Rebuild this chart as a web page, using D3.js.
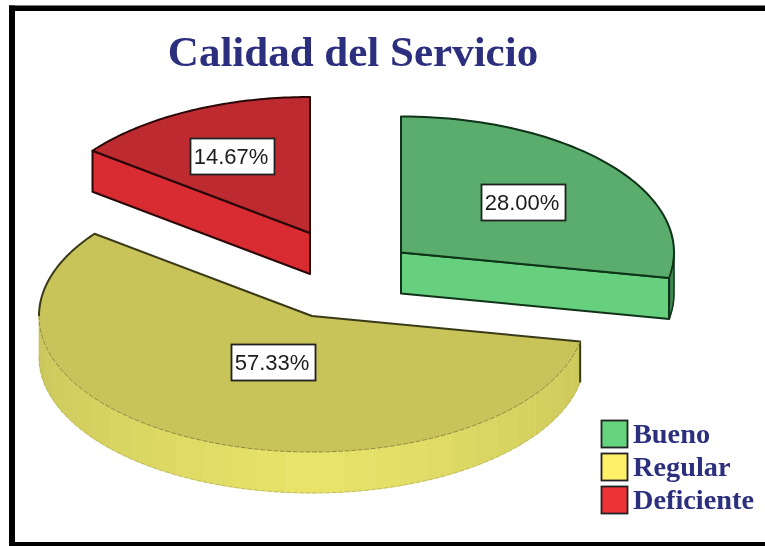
<!DOCTYPE html>
<html><head><meta charset="utf-8">
<script src="https://cdn.jsdelivr.net/npm/d3@7/dist/d3.min.js"></script>
<style>html,body{margin:0;padding:0;background:#fff;overflow:hidden}svg{display:block;filter:blur(0.45px)}</style>
</head><body><svg id="c" width="765" height="546"></svg>
<script>
const categories = ["Bueno", "Regular", "Deficiente"];
const values = [28.00, 57.33, 14.67];
const labels = ["28.00%", "57.33%", "14.67%"];
const title = "Calidad del Servicio";
const topColors = ["#5aad6c", "#c8c45a", "#bd2a30"];
const wallColors = ["#66d07e", "#e9e56a", "#d92b32"];
const legendColors = ["#66d47f", "#fdf068", "#ee3338"];
const outlineColors = ["#0f3318", "#3a3a18", "#2a0808"];

const svg = d3.select("#c");
const rx = 273, ry = 136, depth = 41;
// exploded slice centres
const centres = [[401, 252.5], [312, 316], [310, 233]];
// pie layout starting at twelve o'clock, clockwise, in data order
const arcs = d3.pie().sort(null).value(d => d)(values);
const px = (c, a) => c[0] + rx * Math.sin(a);
const py = (c, a, dz = 0) => c[1] - ry * Math.cos(a) + dz;
const line = d3.line();
const sweep = (a0, a1) => d3.range(0, 61).map(i => a0 + (a1 - a0) * i / 60);

// frame: open on the right, as in the source image
[[9, 5.5, 756, 5.5], [9, 5.5, 6, 540.5], [9, 542, 756, 4]].forEach(([x, y, w, h]) => {
  svg.append("rect").attr("x", x).attr("y", y).attr("width", w).attr("height", h).attr("fill", "#000");
});

svg.append("text").attr("x", 353).attr("y", 66).attr("text-anchor", "middle")
  .attr("font-family", "'Liberation Serif'").attr("font-weight", "bold").attr("font-size", 43)
  .attr("fill", "#2b2f7e").text(title);

const wallShade = d3.scaleLinear().domain([Math.PI * 0.5, Math.PI * 0.82, Math.PI, Math.PI * 1.18, Math.PI * 1.5]).clamp(true);

arcs.forEach((d, i) => {
  const c = centres[i], g = svg.append("g");
  const a0 = d.startAngle, a1 = d.endAngle;
  // rim wall, cut into flat facets that brighten toward the front
  const a = Math.max(a0, Math.PI * 0.5), b = Math.min(a1, Math.PI * 1.5);
  const mid = d3.interpolateRgb(topColors[i], wallColors[i])(0.65);
  const shade = wallShade.copy().range([topColors[i], mid, wallColors[i], mid, topColors[i]]);
  if (b > a) {
    const n = Math.max(1, Math.round((b - a) / 0.105));
    d3.range(n).forEach(k => {
      const s = a + (b - a) * k / n, e = a + (b - a) * (k + 1) / n;
      const pts = sweep(s, e);
      const poly = pts.map(t => [px(c, t), py(c, t)])
        .concat(pts.slice().reverse().map(t => [px(c, t), py(c, t, depth)]));
      g.append("path").attr("d", line(poly) + "Z")
        .attr("fill", shade((s + e) / 2)).attr("stroke", shade((s + e) / 2)).attr("stroke-width", .6);
    });
  }
  // cut faces that turn toward the viewer
  if (i !== 1) {
    const edge = i === 0 ? a1 : a0;
    const poly = [[c[0], c[1]], [px(c, edge), py(c, edge)], [px(c, edge), py(c, edge, depth)], [c[0], c[1] + depth]];
    g.append("path").attr("d", line(poly) + "Z").attr("fill", wallColors[i])
      .attr("stroke", outlineColors[i]).attr("stroke-width", 2).attr("stroke-linejoin", "round");
  }
  // top face
  const rim = sweep(a0, a1).map(t => [px(c, t), py(c, t)]);
  g.append("path").attr("d", line([[c[0], c[1]], ...rim]) + "Z").attr("fill", topColors[i]);
  if (i === 1) {
    // only the back edges carry a heavy outline
    const leftOnly = sweep(Math.PI * 1.5, a1).map(t => [px(c, t), py(c, t)]);
    g.append("path").attr("d", line([...leftOnly, [c[0], c[1]], [px(c, a0), py(c, a0)], [px(c, a0), py(c, a0, depth)]]))
      .attr("fill", "none").attr("stroke", outlineColors[i]).attr("stroke-width", 2).attr("stroke-linejoin", "round");
    const front = sweep(a0, Math.PI * 1.5);
    g.append("path").attr("d", line(front.map(t => [px(c, t), py(c, t)])))
      .attr("fill", "none").attr("stroke", "#8e8a3c").attr("stroke-width", 1).attr("stroke-dasharray", "5 1.5");
    g.append("path").attr("d", line(front.map(t => [px(c, t), py(c, t, depth)])))
      .attr("fill", "none").attr("stroke", "#b5b152").attr("stroke-width", .8).attr("stroke-dasharray", "5 1.5");
  } else {
    g.append("path").attr("d", line([[c[0], c[1]], ...rim]) + "Z").attr("fill", "none")
      .attr("stroke", outlineColors[i]).attr("stroke-width", 2).attr("stroke-linejoin", "round");
  }
  if (i === 0) {
    // the sliver of outer wall at the far right
    const s = sweep(Math.PI * 0.5, a1);
    const poly = s.map(t => [px(c, t), py(c, t)]).concat(s.slice().reverse().map(t => [px(c, t), py(c, t, depth)]));
    g.append("path").attr("d", line(poly) + "Z").attr("fill", "#3f8a50").attr("stroke", outlineColors[i]).attr("stroke-width", 1.5);
    g.append("path").attr("d", line([[px(c, a1), py(c, a1)], [px(c, a1), py(c, a1, depth)]]))
      .attr("stroke", outlineColors[i]).attr("stroke-width", 2);
  }
});

// value labels
const labelBoxes = [[481, 184], [231, 344], [190, 138]];
labels.forEach((t, i) => {
  const [x, y] = labelBoxes[i];
  svg.append("rect").attr("x", x + .5).attr("y", y + .5).attr("width", 84).attr("height", 36)
    .attr("fill", "#fff").attr("stroke", "#222").attr("stroke-width", 1.8);
  svg.append("text").attr("x", x + 41).attr("y", y + 26).attr("text-anchor", "middle")
    .attr("font-family", "'Liberation Sans'").attr("font-size", 22).attr("fill", "#1c1c1c").text(t);
});

// legend
const legendY = d3.scaleBand().domain(categories).range([419, 518]).paddingInner(0);
categories.forEach((t, i) => {
  const y = legendY(t);
  svg.append("rect").attr("x", 601.5).attr("y", y + 1.5).attr("width", 26).attr("height", 27)
    .attr("fill", legendColors[i]).attr("stroke", "#222").attr("stroke-width", 1.8);
  svg.append("text").attr("x", 633).attr("y", y + 24).attr("font-family", "'Liberation Serif'")
    .attr("font-weight", "bold").attr("font-size", 28.3).attr("fill", "#2b2f7e").text(t);
});
</script></body></html>
